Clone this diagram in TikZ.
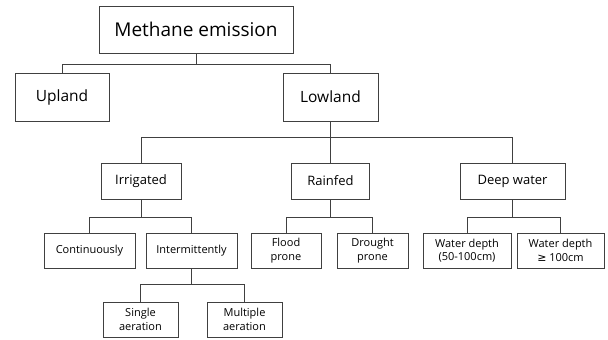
\documentclass[tikz,border=0pt]{standalone}
\usepackage{fontspec}
\setmainfont{Open Sans}
\newfontfamily\symfont{DejaVu Sans}
\begin{document}
\begin{tikzpicture}[
  x=1pt, y=-1pt,
  box/.style={
    draw=black!75,
    line width=1pt,
    align=center,
    inner sep=0pt
  },
  topbox/.style={box, minimum width=#1, minimum height=47pt, font=\fontsize{19}{22}\selectfont},
  midbox/.style={box, minimum width=#1, minimum height=48pt, font=\fontsize{15.5}{18}\selectfont},
  catbox/.style={box, minimum width=#1, minimum height=36pt, font=\fontsize{13}{15.5}\selectfont},
  leafbox/.style={box, minimum width=#1, minimum height=35pt, font=\fontsize{11}{13.5}\selectfont},
  link/.style={draw=black!75, line width=0.8pt}
]
\useasboundingbox (0,0) rectangle (608,340);

\node[topbox=194pt] (methane) at (196,29.5) {Methane emission};
\node[midbox=94pt] (upland) at (62,97) {Upland};
\node[midbox=95pt] (lowland) at (330.5,97) {Lowland};

\node[catbox=80pt] (irrigated) at (141,181) {Irrigated};
\node[catbox=78pt] (rainfed) at (330.5,181) {Rainfed};
\node[catbox=105pt] (deep) at (512.5,181) {Deep water};

\node[leafbox=91pt] (cont) at (89.5,250.5) {Continuously};
\node[leafbox=91pt] (inter) at (191.5,250.5) {Intermittently};
\node[leafbox=70pt] (flood) at (286,250.5) {Flood\\prone};
\node[leafbox=71pt] (drought) at (372.5,250.5) {Drought\\prone};
\node[leafbox=88pt] (depthlo) at (467,250.5) {Water depth\\(50-100cm)};
\node[leafbox=87pt] (depthhi) at (560.5,250.5) {Water depth\\{\symfont ≥} 100cm};

\node[leafbox=75pt] (single) at (140.5,319.5) {Single\\aeration};
\node[leafbox=75pt] (multi) at (244.5,319.5) {Multiple\\aeration};

% tree connectors
\draw[link] (methane.south) -- ++(0,11) -| (upland.north);
\draw[link] (methane.south) -- ++(0,11) -| (lowland.north);

\draw[link] (lowland.south) -- ++(0,16) -| (irrigated.north);
\draw[link] (lowland.south) -- (rainfed.north);
\draw[link] (lowland.south) -- ++(0,16) -| (deep.north);

\draw[link] (irrigated.south) -- ++(0,18) -| (cont.north);
\draw[link] (irrigated.south) -- ++(0,18) -| (inter.north);
\draw[link] (rainfed.south) -- ++(0,18) -| (flood.north);
\draw[link] (rainfed.south) -- ++(0,18) -| (drought.north);
\draw[link] (deep.south) -- ++(0,18) -| (depthlo.north);
\draw[link] (deep.south) -- ++(0,18) -| (depthhi.north);

\draw[link] (inter.south) -- ++(0,16) -| (single.north);
\draw[link] (inter.south) -- ++(0,16) -| (multi.north);
\end{tikzpicture}
\end{document}
